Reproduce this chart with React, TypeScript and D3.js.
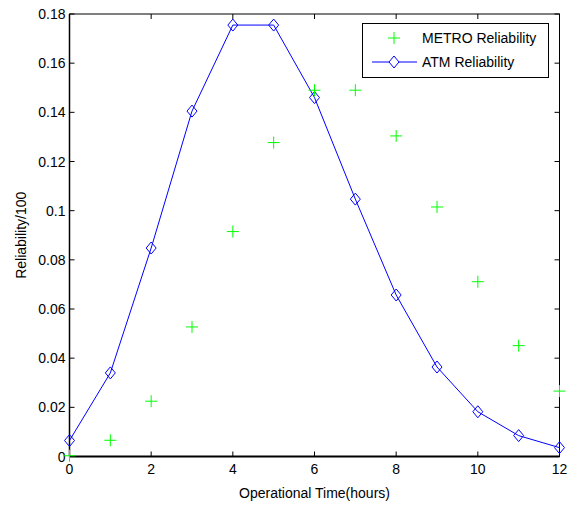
import React, { useEffect, useRef } from 'react';
import * as d3 from 'd3';

const hours = [0, 1, 2, 3, 4, 5, 6, 7, 8, 9, 10, 11, 12];
const metroReliability = [0.0003, 0.0066, 0.0225, 0.0527, 0.0915, 0.1277, 0.149, 0.149, 0.1304, 0.1015, 0.0711, 0.0451, 0.0266];
const atmReliability = [0.0065, 0.034, 0.0848, 0.1405, 0.1755, 0.1755, 0.146, 0.1047, 0.0657, 0.0364, 0.0182, 0.0085, 0.0036];
const xTicks = [0, 2, 4, 6, 8, 10, 12];
const yTicks = [0, 0.02, 0.04, 0.06, 0.08, 0.1, 0.12, 0.14, 0.16, 0.18];
const yTickLabels = ['0', '0.02', '0.04', '0.06', '0.08', '0.1', '0.12', '0.14', '0.16', '0.18'];

const App = () => {
  const svgRef = useRef<SVGSVGElement>(null);

  useEffect(() => {
    const svg = d3.select(svgRef.current);
    svg.selectAll('*').remove();

    const left = 69.5, right = 559.5, top = 14, bottom = 456.5;
    const font = 'Liberation Sans, Arial, sans-serif';

    const x = d3.scaleLinear().domain([0, 12]).range([left, right]);
    const y = d3.scaleLinear().domain([0, 0.18]).range([bottom, top]);

    const g = svg.append('g');
    g.append('rect')
      .attr('x', 0).attr('y', 0).attr('width', 576).attr('height', 506)
      .attr('fill', '#fff');

    // ticks on all four sides, pointing inward
    const tl = 5;
    xTicks.forEach(t => {
      g.append('line').attr('x1', x(t)).attr('x2', x(t)).attr('y1', bottom).attr('y2', bottom - tl)
        .attr('stroke', '#000');
      g.append('line').attr('x1', x(t)).attr('x2', x(t)).attr('y1', top).attr('y2', top + tl)
        .attr('stroke', '#000');
      g.append('text').attr('x', x(t)).attr('y', bottom + 17)
        .attr('text-anchor', 'middle').attr('font-family', font).attr('font-size', 14)
        .text(t);
    });
    yTicks.forEach((t, i) => {
      g.append('line').attr('x1', left).attr('x2', left + tl).attr('y1', y(t)).attr('y2', y(t))
        .attr('stroke', '#000');
      g.append('line').attr('x1', right).attr('x2', right - tl).attr('y1', y(t)).attr('y2', y(t))
        .attr('stroke', '#000');
      g.append('text').attr('x', left - 4).attr('y', y(t) + 5)
        .attr('text-anchor', 'end').attr('font-family', font).attr('font-size', 14)
        .text(yTickLabels[i]);
    });

    g.append('rect')
      .attr('x', left).attr('y', top).attr('width', right - left).attr('height', bottom - top)
      .attr('fill', 'none').attr('stroke', '#000').attr('stroke-width', 1);
    g.append('line').attr('x1', left).attr('x2', right).attr('y1', bottom).attr('y2', bottom)
      .attr('stroke', '#000').attr('stroke-width', 2);
    g.append('line').attr('x1', left).attr('x2', left).attr('y1', top).attr('y2', bottom)
      .attr('stroke', '#000').attr('stroke-width', 1.5);

    const atm = hours.map((h, i) => [h, atmReliability[i]] as [number, number]);
    const metro = hours.map((h, i) => [h, metroReliability[i]] as [number, number]);

    const line = d3.line<[number, number]>().x(d => x(d[0])).y(d => y(d[1]));
    g.append('path').datum(atm).attr('d', line)
      .attr('fill', 'none').attr('stroke', '#0000ff').attr('stroke-width', 1);

    const diamond = (cx: number, cy: number) =>
      `M${cx},${cy - 6}L${cx + 5},${cy}L${cx},${cy + 6}L${cx - 5},${cy}Z`;
    const plus = (cx: number, cy: number) =>
      `M${cx - 6},${cy}H${cx + 6}M${cx},${cy - 6}V${cy + 6}`;

    g.selectAll('.atm').data(atm).enter().append('path')
      .attr('d', d => diamond(x(d[0]), y(d[1])))
      .attr('fill', 'none').attr('stroke', '#0000ff').attr('stroke-width', 1);

    g.selectAll('.metro').data(metro).enter().append('path')
      .attr('d', d => plus(x(d[0]), y(d[1])))
      .attr('fill', 'none').attr('stroke', '#00ff00').attr('stroke-width', 1);

    // legend
    const lg = g.append('g');
    lg.append('rect').attr('x', 362.5).attr('y', 23.5).attr('width', 186).attr('height', 54)
      .attr('fill', '#fff').attr('stroke', '#000').attr('stroke-width', 1);
    lg.append('path').attr('d', plus(394, 38))
      .attr('fill', 'none').attr('stroke', '#00ff00');
    lg.append('text').attr('x', 422).attr('y', 43).attr('font-family', font).attr('font-size', 14)
      .text('METRO Reliability');
    lg.append('line').attr('x1', 372).attr('x2', 417).attr('y1', 62).attr('y2', 62)
      .attr('stroke', '#0000ff');
    lg.append('path').attr('d', diamond(394, 62))
      .attr('fill', '#fff').attr('stroke', '#0000ff');
    lg.append('text').attr('x', 422).attr('y', 67).attr('font-family', font).attr('font-size', 14)
      .text('ATM Reliability');

    // axis labels
    g.append('text').attr('x', (left + right) / 2).attr('y', 498)
      .attr('text-anchor', 'middle').attr('font-family', font).attr('font-size', 14)
      .text('Operational Time(hours)');
    g.append('text').attr('transform', `translate(26,${(top + bottom) / 2}) rotate(-90)`)
      .attr('text-anchor', 'middle').attr('font-family', font).attr('font-size', 14)
      .text('Reliability/100');
  }, []);

  return (
    <svg ref={svgRef} width={576} height={506}
      style={{ position: 'absolute', left: 0, top: 0, display: 'block' }} />
  );
};

export default App;
